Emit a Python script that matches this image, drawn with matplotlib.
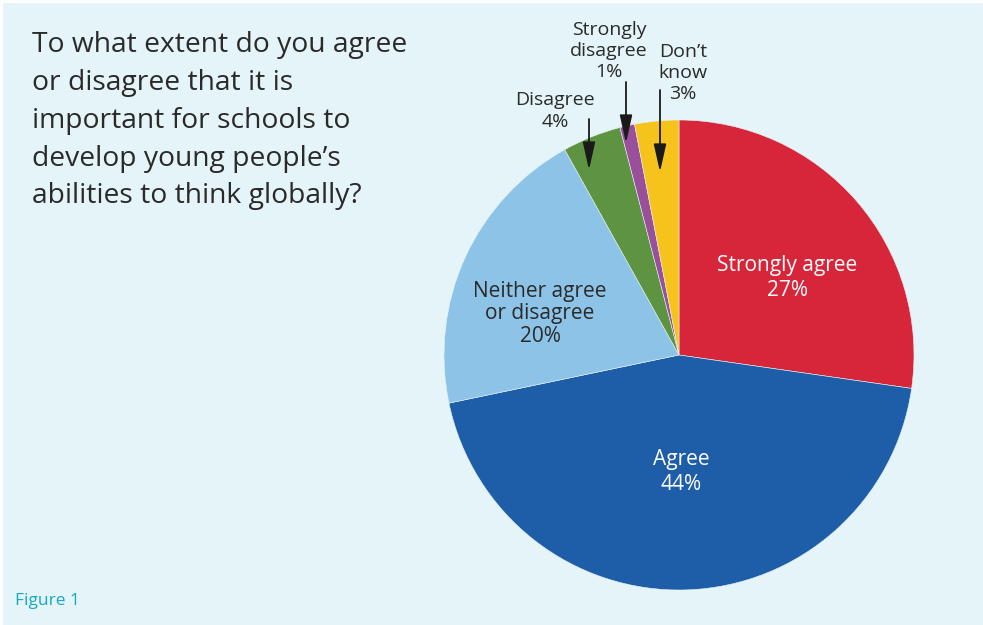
import matplotlib
matplotlib.use("Agg")
import matplotlib.pyplot as plt
from matplotlib.patches import Rectangle

categories = ["Strongly agree", "Agree", "Neither agree\nor disagree", "Disagree", "Strongly\ndisagree", "Don\u2019t\nknow"]
values = [27, 44, 20, 4, 1, 3]
colors = ["#D7263A", "#1E5EA8", "#8DC3E6", "#5E9441", "#9A4F9B", "#F6C21C"]

W, H = 983, 625
fig = plt.figure(figsize=(W / 100, H / 100), dpi=100, facecolor="white")
plt.rcParams["font.family"] = ["Open Sans", "DejaVu Sans"]

fig.patches.append(Rectangle((3 / W, 0), 1 - 3 / W, 1 - 3 / H, transform=fig.transFigure,
                             facecolor="#E4F4F8", edgecolor="none", zorder=-10))

cx, cy, R = 679, 355, 235
ax = fig.add_axes([(cx - R) / W, (H - cy - R) / H, 2 * R / W, 2 * R / H])
ax.set_zorder(5)
ax.pie(values, colors=colors, startangle=90, counterclock=False, radius=1,
       wedgeprops=dict(linewidth=0.4, edgecolor="#E4F4F8"))
ax.set_xlim(-1, 1)
ax.set_ylim(-1, 1)
ax.set_aspect("equal")
ax.axis("off")

def p(px, py):
    return ((px - cx) / R, (cy - py) / R)

dark = "#2A2A2A"
# inside labels
ax.text(*p(787, 278), f"{categories[0]}\n{values[0]}%", color="white", fontsize=15,
        ha="center", va="center", linespacing=1.3)
ax.text(*p(681, 472), f"{categories[1]}\n{values[1]}%", color="white", fontsize=15,
        ha="center", va="center", linespacing=1.3)
ax.text(*p(540, 314), f"{categories[2]}\n{values[2]}%", color=dark, fontsize=15,
        ha="center", va="center", linespacing=1.12)

# outside labels
ax.text(*p(555, 111), f"{categories[3]}\n{values[3]}%", color=dark, fontsize=14,
        ha="center", va="center", linespacing=1.22, clip_on=False)
ax.text(*p(609, 51), f"{categories[4]}\n{values[4]}%", color=dark, fontsize=14,
        ha="center", va="center", linespacing=1.22, clip_on=False)
ax.text(*p(683, 73), f"{categories[5]}\n{values[5]}%", color=dark, fontsize=14,
        ha="center", va="center", linespacing=1.22, clip_on=False)

arrow = dict(arrowstyle="-|>,head_length=1.7,head_width=0.38", color="#1a1a1a", lw=1.3,
             shrinkA=0, shrinkB=0)
for (x0, y0), (x1, y1) in [((589, 119), (589, 170)), ((626, 82), (626, 143)), ((660, 90), (660, 172))]:
    ax.annotate("", xy=p(x1, y1), xytext=p(x0, y0), arrowprops=arrow, annotation_clip=False)

fig.text(32 / W, 1 - 31 / H,
         "To what extent do you agree\nor disagree that it is\nimportant for schools to\ndevelop young people\u2019s\nabilities to think globally?",
         fontsize=20.3, color=dark, ha="left", va="top", linespacing=1.47)
fig.text(15 / W, 1 - 601 / H, "Figure 1", fontsize=12.5, color="#17A8C2", ha="left", va="center")

fig.savefig("out.png", dpi=100, facecolor="white")
